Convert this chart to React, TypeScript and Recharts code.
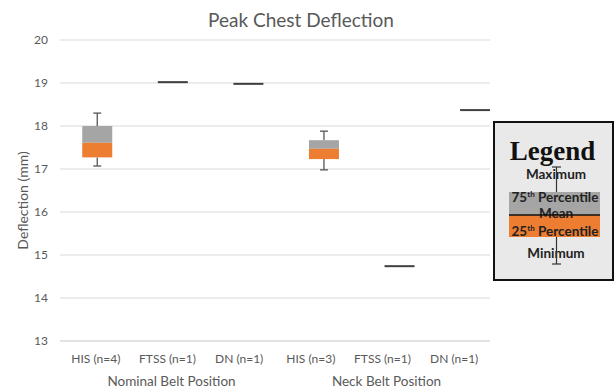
import React from 'react';
import { ComposedChart, Bar, XAxis, YAxis, CartesianGrid } from 'recharts';

const categories = ['HIS (n=4)', 'FTSS (n=1)', 'DN (n=1)', 'HIS (n=3)', 'FTSS (n=1)', 'DN (n=1)'];
const groupOfCategory = [0, 0, 0, 1, 1, 1];
const groupLabels = ['Nominal Belt Position', 'Neck Belt Position'];
const minValues = [17.07, 19.02, 18.98, 16.98, 14.74, 18.37];
const q1Values = [17.27, 19.02, 18.98, 17.23, 14.74, 18.37];
const meanValues = [17.61, 19.02, 18.98, 17.47, 14.74, 18.37];
const q3Values = [18.0, 19.02, 18.98, 17.67, 14.74, 18.37];
const maxValues = [18.3, 19.02, 18.98, 17.88, 14.74, 18.37];
const yTicks = [13, 14, 15, 16, 17, 18, 19, 20];

const groupMiddle = groupLabels.map((_, g) => {
  const idx = categories.map((_, i) => i).filter((i) => groupOfCategory[i] === g);
  return idx[Math.floor(idx.length / 2)];
});

const data = categories.map((name, i) => ({
  name,
  pos: i,
  min: minValues[i],
  q1: q1Values[i],
  mean: meanValues[i],
  q3: q3Values[i],
  max: maxValues[i],
  range: [minValues[i], maxValues[i]],
  groupLabel: groupMiddle[groupOfCategory[i]] === i ? groupLabels[groupOfCategory[i]] : '',
}));

const FONT = 'Lato, "Open Sans", sans-serif';
const GREY_TEXT = '#595959';

const BoxShape = (props: any) => {
  const { x, y, width, height, payload } = props;
  if (x == null || y == null || !payload) return null;
  const { min, q1, mean, q3, max } = payload;
  const top = Math.min(y, y + (height || 0));
  const bottom = Math.max(y, y + (height || 0));
  const span = max - min;
  const cx = x + width / 2;
  if (!(span > 0)) {
    return (
      <g>
        <line x1={x} x2={x + width} y1={top} y2={top} stroke="#404040" strokeWidth={2} />
      </g>
    );
  }
  const toY = (v: number) => bottom - ((v - min) / span) * (bottom - top);
  const cap = 4;
  return (
    <g>
      <line x1={cx} x2={cx} y1={toY(max)} y2={toY(q3)} stroke="#555" strokeWidth={1.3} />
      <line x1={cx - cap} x2={cx + cap} y1={toY(max)} y2={toY(max)} stroke="#555" strokeWidth={1.3} />
      <line x1={cx} x2={cx} y1={toY(q1)} y2={toY(min)} stroke="#555" strokeWidth={1.3} />
      <line x1={cx - cap} x2={cx + cap} y1={toY(min)} y2={toY(min)} stroke="#555" strokeWidth={1.3} />
      <rect x={x} y={toY(q3)} width={width} height={toY(mean) - toY(q3)} fill="#a5a5a5" />
      <rect x={x} y={toY(mean)} width={width} height={toY(q1) - toY(mean)} fill="#ed7d31" />
    </g>
  );
};

const CategoryTick = (props: any) => {
  const { x, y, payload, index } = props;
  const row = data[index];
  return (
    <g>
      <text x={x} y={y} dy={14} textAnchor="middle" fontSize={12} fontFamily={FONT} fill={GREY_TEXT}>
        {payload.value}
      </text>
      {row && row.groupLabel ? (
        <text x={x + 4} y={y} dy={37} textAnchor="middle" fontSize={13.5} fontFamily={FONT} fill={GREY_TEXT}>
          {row.groupLabel}
        </text>
      ) : null}
    </g>
  );
};

const YLabel = (props: any) => {
  const vb = props.viewBox || { x: 0, y: 40, width: 60, height: 301 };
  const cx = vb.x + 22;
  const cy = vb.y + vb.height / 2 + 10;
  return (
    <text x={cx} y={cy} transform={`rotate(-90, ${cx}, ${cy})`} textAnchor="middle" dominantBaseline="central"
      fontSize={14} fontFamily={FONT} fill={GREY_TEXT}>
      Deflection (mm)
    </text>
  );
};

const LEG_FONT = 'Lato, "Liberation Sans", sans-serif';

const LegendBox = () => (
  <g transform="translate(493,121)">
    <rect x={1} y={1} width={119} height={158} fill="#e9e9e9" stroke="#111" strokeWidth={2} />
    <text x={59.5} y={39} textAnchor="middle" fontFamily='"Liberation Serif", "DejaVu Serif", serif' fontWeight="bold" fontSize={27} fill="#111">Legend</text>
    <text x={63} y={58} textAnchor="middle" fontFamily={LEG_FONT} fontWeight="bold" fontSize={13.5} fill="#222">Maximum</text>
    <rect x={16} y={71} width={91} height={23} fill="#a5a5a5" />
    <rect x={16} y={94} width={91} height={22} fill="#ed7d31" />
    <text x={62} y={81} textAnchor="middle" fontFamily={LEG_FONT} fontWeight="bold" fontSize={13.5} fill="#222">
      75<tspan dy={-5} fontSize={8}>th</tspan><tspan dy={5}> Percentile</tspan>
    </text>
    <text x={63} y={97} textAnchor="middle" fontFamily={LEG_FONT} fontWeight="bold" fontSize={13.5} fill="#222">Mean</text>
    <line x1={16} x2={107} y1={94} y2={94} stroke="#111" strokeWidth={1.5} />
    <text x={62} y={115} textAnchor="middle" fontFamily={LEG_FONT} fontWeight="bold" fontSize={13.5} fill="#222">
      25<tspan dy={-5} fontSize={8}>th</tspan><tspan dy={5}> Percentile</tspan>
    </text>
    <text x={63} y={137} textAnchor="middle" fontFamily={LEG_FONT} fontWeight="bold" fontSize={13.5} fill="#222">Minimum</text>
    <line x1={63.5} x2={63.5} y1={46} y2={71} stroke="#333" strokeWidth={1.2} />
    <line x1={59} x2={68} y1={46} y2={46} stroke="#333" strokeWidth={1.2} />
    <line x1={63.5} x2={63.5} y1={116} y2={143} stroke="#333" strokeWidth={1.2} />
    <line x1={59} x2={68} y1={143} y2={143} stroke="#333" strokeWidth={1.2} />
  </g>
);

export default function App() {
  return (
    <div style={{ position: 'absolute', left: 0, top: 0, width: 615, height: 389, background: '#fff' }}>
      <ComposedChart width={615} height={389} data={data} margin={{ top: 40, right: 125, bottom: 0, left: 0 }}>
        <CartesianGrid vertical={false} stroke="#d9d9d9" strokeWidth={1} />
        <XAxis
          xAxisId="cat"
          dataKey="name"
          type="category"
          allowDuplicatedCategory={true}
          height={48}
          tickLine={false}
          axisLine={{ stroke: '#d9d9d9' }}
          interval={0}
          tick={<CategoryTick />}
        />
        <XAxis xAxisId="pos" dataKey="pos" type="number" domain={[-0.49, 5.2]} allowDataOverflow hide />
        <YAxis
          domain={[13, 20]}
          ticks={yTicks}
          width={60}
          tickLine={false}
          axisLine={false}
          tickMargin={6}
          tick={{ fontSize: 12, fill: GREY_TEXT, fontFamily: FONT }}
          label={{ content: <YLabel /> }}
        />
        <Bar xAxisId="pos" dataKey="range" barSize={30} shape={<BoxShape />} isAnimationActive={false} />
      </ComposedChart>
      <svg width={615} height={389} style={{ position: 'absolute', left: 0, top: 0, pointerEvents: 'none' }}>
        <text x={301} y={27} textAnchor="middle" fontSize={19} fontFamily={FONT} fill={GREY_TEXT}>Peak Chest Deflection</text>
        <LegendBox />
      </svg>
    </div>
  );
}
